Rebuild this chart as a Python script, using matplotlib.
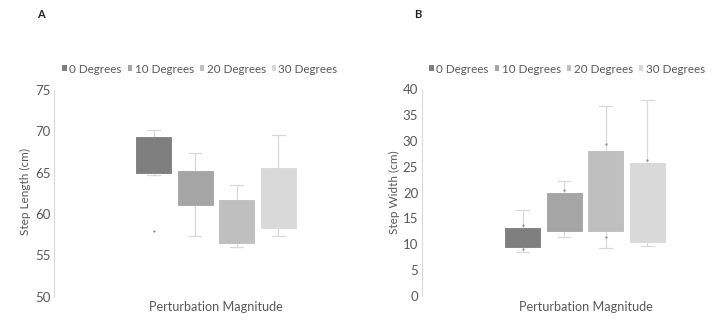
import matplotlib
matplotlib.use("Agg")
import matplotlib.pyplot as plt
from matplotlib.patches import Patch

plt.rcParams['font.family'] = ['Lato', 'DejaVu Sans']

series = ["0 Degrees", "10 Degrees", "20 Degrees", "30 Degrees"]
colors = ["#7f7f7f", "#a5a5a5", "#bfbfbf", "#d9d9d9"]

# Panel A: Step Length (cm)
a_q1 = [64.8, 61.0, 56.4, 58.2]
a_q3 = [69.4, 65.3, 61.8, 65.65]
a_lo = [64.7, 57.3, 56.0, 57.3]
a_hi = [70.2, 67.4, 63.5, 69.5]
a_pts = [[57.9], [], [], []]

# Panel B: Step Width (cm)
b_q1 = [9.2, 12.3, 12.4, 10.3]
b_q3 = [13.4, 20.05, 28.2, 26.0]
b_lo = [8.45, 11.5, 9.2, 9.7]
b_hi = [16.6, 22.3, 36.75, 37.9]
b_pts = [[13.7, 9.0], [20.6], [29.5, 11.4], [26.4]]

W, H = 716, 321
fig = plt.figure(figsize=(W / 100, H / 100), dpi=100)

tick_col = "#595959"
whisk_col = "#d9d9d9"


def panel(left_px, right_px, bottom_px, top_px, x1_px, q1, q3, lo, hi, pts,
          ylim, yticks, ylabel, xlabel_px, ylabel_px, letter, letter_px, legend_px):
    ax = fig.add_axes([left_px / W, 1 - bottom_px / H,
                       (right_px - left_px) / W, (bottom_px - top_px) / H])
    stats = []
    for i in range(len(series)):
        stats.append(dict(q1=q1[i], q3=q3[i], med=q3[i], whislo=lo[i], whishi=hi[i],
                          fliers=pts[i]))
    pos = [1, 2, 3, 4]
    bp = ax.bxp(stats, positions=pos, widths=0.89, patch_artist=True, showfliers=True,
                whiskerprops=dict(color=whisk_col, lw=0.9),
                capprops=dict(color=whisk_col, lw=0.9),
                medianprops=dict(lw=0),
                flierprops=dict(marker='o', markersize=1.6, markerfacecolor='#8c8c8c',
                                markeredgecolor='none'),
                capwidths=0.3)
    for b, c in zip(bp['boxes'], colors):
        b.set_facecolor(c)
        b.set_edgecolor('white')
        b.set_linewidth(0.8)
    spacing = 41.6
    ax.set_xlim(1 - (x1_px - left_px) / spacing, 1 + (right_px - x1_px) / spacing)
    ax.set_ylim(*ylim)
    ax.set_yticks(yticks)
    ax.set_yticklabels([str(t) for t in yticks], fontsize=9.5, color=tick_col)
    ax.set_xticks([])
    for s in ['top', 'right', 'bottom']:
        ax.spines[s].set_visible(False)
    ax.spines['left'].set_color(whisk_col)
    ax.spines['left'].set_linewidth(0.8)
    ax.tick_params(axis='y', length=0, pad=2.5)
    ax.patch.set_alpha(0)
    fig.text(xlabel_px / W, 1 - 307 / H, "Perturbation Magnitude", ha='center', va='center',
             fontsize=9.1, color=tick_col)
    fig.text(ylabel_px / W, 1 - 192 / H, ylabel, ha='center', va='center', rotation=90,
             fontsize=8.5, color=tick_col)
    fig.text(letter_px[0] / W, 1 - letter_px[1] / H, letter, ha='center', va='center',
             fontsize=8, fontweight='bold', color='#222222')
    handles = [Patch(facecolor=c, edgecolor='none') for c in colors]
    fig.legend(handles, series, loc='center', bbox_to_anchor=(legend_px / W, 1 - 69 / H),
               ncol=4, frameon=False, fontsize=8.4, labelcolor=tick_col,
               handlelength=0.4, handleheight=0.4, handletextpad=0.2, columnspacing=0.5)
    return ax


panel(54, 340, 296.7, 90, 153.5, a_q1, a_q3, a_lo, a_hi, a_pts,
      (50, 75), [50, 55, 60, 65, 70, 75], "Step Length (cm)", 216, 25, "A", (41, 14), 200)
panel(421.7, 700, 296, 89.3, 522.5, b_q1, b_q3, b_lo, b_hi, b_pts,
      (0, 40), [0, 5, 10, 15, 20, 25, 30, 35, 40], "Step Width (cm)", 585.5, 394, "B", (418, 14), 567)

fig.savefig("out.png", dpi=100)
